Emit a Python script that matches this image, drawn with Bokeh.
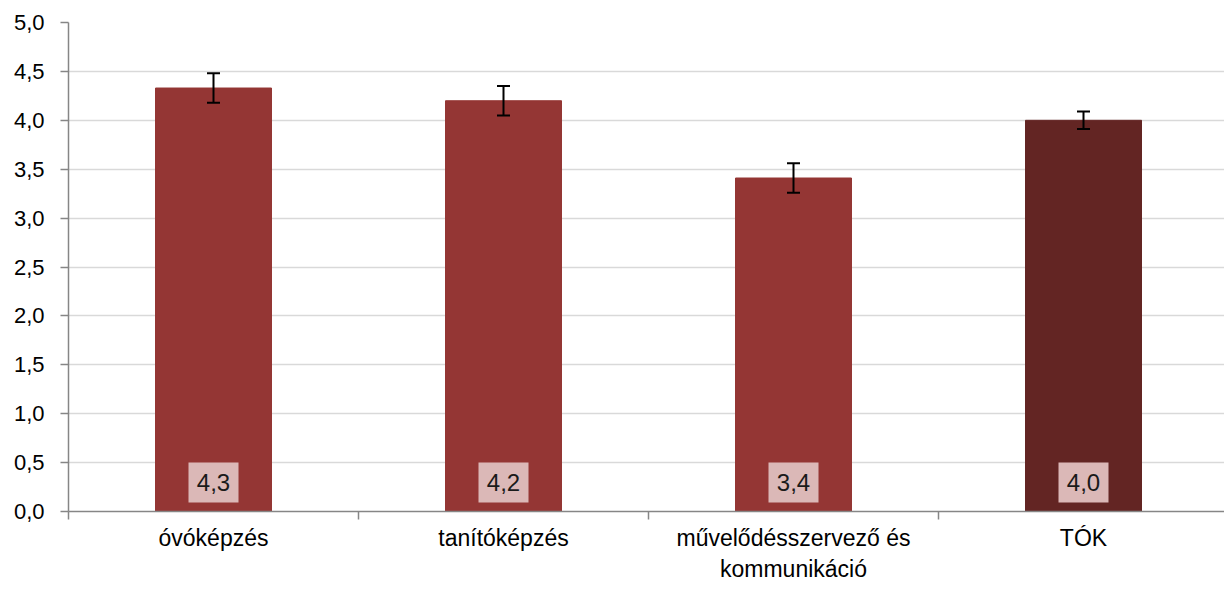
from bokeh.plotting import figure
from bokeh.models import Range1d, FixedTicker, ColumnDataSource, Whisker, TeeHead
from bokeh.core.properties import value
from bokeh.embed import file_html
from bokeh.resources import INLINE

categories = ["óvóképzés", "tanítóképzés", "művelődésszervező és\nkommunikáció", "TÓK"]
means = [4.33, 4.20, 3.41, 4.00]
errors = [0.15, 0.15, 0.15, 0.09]
bar_colors = ["#943634", "#943634", "#943634", "#632523"]
y_ticks = [0.0, 0.5, 1.0, 1.5, 2.0, 2.5, 3.0, 3.5, 4.0, 4.5, 5.0]
y_tick_labels = ["0,0", "0,5", "1,0", "1,5", "2,0", "2,5", "3,0", "3,5", "4,0", "4,5", "5,0"]

FONT = "Liberation Sans"
FRAME_H = 489
FRAME_W = 1156
CAT_W = 290
Y_MAX = 5.0

centers = [i + 0.5 for i in range(len(categories))]
boundaries = [float(i) for i in range(len(categories) + 1)]
label_y = 29 / (FRAME_H / Y_MAX)

src = ColumnDataSource(dict(
    x=centers,
    top=means,
    color=bar_colors,
    upper=[m + e for m, e in zip(means, errors)],
    lower=[m - e for m, e in zip(means, errors)],
    lab=[f"{m:.1f}".replace(".", ",") for m in means],
    ly=[label_y] * len(means),
))

p = figure(frame_width=FRAME_W, frame_height=FRAME_H,
           x_range=Range1d(0, FRAME_W / CAT_W), y_range=Range1d(0, Y_MAX),
           output_backend="svg", toolbar_location=None,
           min_border_left=68, min_border_right=0, min_border_top=22, min_border_bottom=10)
p.outline_line_color = None
p.background_fill_color = "white"

p.vbar(x="x", top="top", width=0.4, color="color", source=src)

w = Whisker(base="x", upper="upper", lower="lower", source=src,
            line_color="black", line_width=2, level="overlay",
            upper_head=TeeHead(size=13, line_width=2, line_color="black"),
            lower_head=TeeHead(size=13, line_width=2, line_color="black"))
p.add_layout(w)

p.rect(x="x", y="ly", width=50, height=40, width_units="screen", height_units="screen",
       fill_color="#dbb8b7", line_color=None, source=src)
p.text(x="x", y="ly", text="lab", text_align="center", text_baseline="middle",
       text_font=value(FONT), text_font_size="24px", text_color="#1a1a1a", source=src)

# y axis
p.yaxis.ticker = FixedTicker(ticks=y_ticks)
p.yaxis.major_label_overrides = {t: l for t, l in zip(y_ticks, y_tick_labels)}
p.yaxis.major_label_text_font = FONT
p.yaxis.major_label_text_font_size = "22px"
p.yaxis.major_label_text_color = "#000000"
p.yaxis.major_label_standoff = 16
p.yaxis.axis_line_color = "#868686"
p.yaxis.axis_line_width = 1.5
p.yaxis.major_tick_line_color = "#868686"
p.yaxis.major_tick_line_width = 1.5
p.yaxis.major_tick_out = 8
p.yaxis.major_tick_in = 0
p.yaxis.minor_tick_line_color = None

# x axis
p.xaxis.ticker = FixedTicker(ticks=centers, minor_ticks=boundaries)
p.xaxis.major_label_overrides = {c: n for c, n in zip(centers, categories)}
p.xaxis.major_label_text_font = FONT
p.xaxis.major_label_text_font_size = "23px"
p.xaxis.major_label_text_color = "#000000"
p.xaxis.major_label_standoff = 5
p.xaxis.axis_line_color = "#868686"
p.xaxis.axis_line_width = 1.5
p.xaxis.major_tick_line_color = None
p.xaxis.minor_tick_line_color = "#868686"
p.xaxis.minor_tick_line_width = 1.5
p.xaxis.minor_tick_out = 8
p.xaxis.minor_tick_in = 0

p.xgrid.visible = False
p.ygrid.ticker = FixedTicker(ticks=y_ticks)
p.ygrid.grid_line_color = "#d9d9d9"
p.ygrid.grid_line_width = 1.5

open("out.html", "w").write(file_html(p, INLINE))
